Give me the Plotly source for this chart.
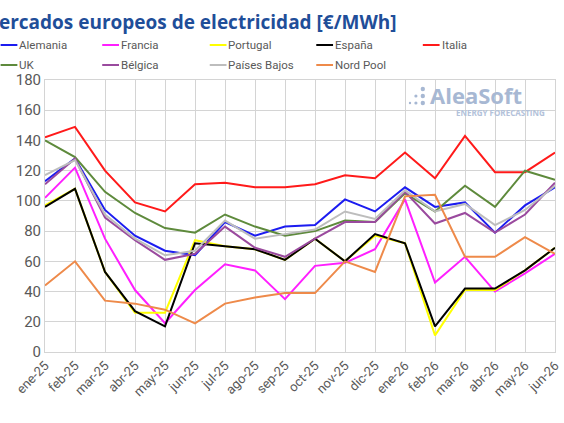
import plotly.graph_objects as go

months = ["ene-25", "feb-25", "mar-25", "abr-25", "may-25", "jun-25", "jul-25", "ago-25", "sep-25",
          "oct-25", "nov-25", "dic-25", "ene-26", "feb-26", "mar-26", "abr-26", "may-26", "jun-26"]

alemania = [113, 128, 94, 77, 67, 64, 86, 77, 83, 84, 101, 93, 109, 96, 99, 79, 97, 109]
francia = [102, 122, 75, 41, 19, 41, 58, 54, 35, 57, 59, 68, 101, 46, 63, 40, 52, 65]
portugal = [97, 108, 53, 26, 26, 74, 70, 68, 61, 75, 60, 77, 72, 11, 41, 41, 54, 69]
espana = [96, 108, 53, 27, 17, 72, 70, 68, 61, 75, 60, 78, 72, 17, 42, 42, 54, 69]
italia = [142, 149, 120, 99, 93, 111, 112, 109, 109, 111, 117, 115, 132, 115, 143, 119, 119, 132]
uk = [140, 129, 106, 92, 82, 79, 91, 83, 77, 80, 87, 86, 105, 93, 110, 96, 120, 114]
belgica = [111, 128, 89, 74, 61, 65, 83, 69, 63, 75, 86, 86, 106, 85, 92, 79, 91, 112]
paises_bajos = [117, 127, 91, 75, 64, 67, 87, 75, 78, 81, 93, 88, 107, 93, 98, 84, 94, 110]
nord_pool = [44, 60, 34, 32, 28, 19, 32, 36, 39, 39, 60, 53, 103, 104, 63, 63, 76, 65]

series = [
    ("Alemania", alemania, "#1c1cf0"),
    ("Francia", francia, "#ff1fff"),
    ("Portugal", portugal, "#ffff00"),
    ("España", espana, "#000000"),
    ("Italia", italia, "#ff1a1a"),
    ("UK", uk, "#5e8a3c"),
    ("Bélgica", belgica, "#9a4a9e"),
    ("Países Bajos", paises_bajos, "#bdbdbd"),
    ("Nord Pool", nord_pool, "#ee8a4a"),
]

y_ticks = [0, 20, 40, 60, 80, 100, 120, 140, 160, 180]

fig = go.Figure()
for name, vals, col in series:
    fig.add_trace(go.Scatter(x=list(range(len(months))), y=vals, name=name, mode="lines",
                             line=dict(color=col, width=2), showlegend=False))

L, R, T, B = 45, 2, 80, 71
W, H = 564, 423
pw = W - L - R
ph = H - T - B

def px_x(p):
    return (p - L) / pw

def px_y(p):
    return 1 + (T - p) / ph

fig.update_layout(
    width=W, height=H,
    margin=dict(l=L, r=R, t=T, b=B),
    paper_bgcolor="white", plot_bgcolor="white",
    font=dict(family="Roboto, Open Sans, sans-serif", color="#595959"),
    showlegend=False,
    xaxis=dict(range=[0, len(months) - 1], tickmode="array", tickvals=list(range(len(months))),
               ticktext=months, tickangle=-45, showgrid=True, gridcolor="#d4d4d4", gridwidth=1,
               showline=True, linecolor="#d4d4d4", mirror=True, zeroline=False, ticks="",
               ticklabeloverflow="allow",
               tickfont=dict(size=13, color="#595959")),
    yaxis=dict(range=[0, 180], tickvals=y_ticks, showgrid=True, gridcolor="#d4d4d4", gridwidth=1,
               showline=True, linecolor="#d4d4d4", mirror=True, zeroline=False, ticks="",
               tickfont=dict(size=15, color="#595959")),
)

# Legend (two rows, five columns, as in the reference)
legend_pos = [(0, 45), (103, 45), (212, 45), (320, 45), (428, 45),
              (0, 65), (103, 65), (212, 65), (320, 65)]
for (name, vals, col), (lx, ly) in zip(series, legend_pos):
    fig.add_shape(type="line", xref="paper", yref="paper",
                  x0=px_x(lx), x1=px_x(lx + 17), y0=px_y(ly), y1=px_y(ly),
                  line=dict(color=col, width=2))
    fig.add_annotation(text=name, xref="paper", yref="paper", x=px_x(lx + 18), y=px_y(ly),
                       xanchor="left", yanchor="middle", showarrow=False, borderpad=0,
                       font=dict(family="Roboto, sans-serif", size=11.5, color="#595959"))

# Title (cropped on the left as in the reference)
fig.add_annotation(text="Mercados europeos de electricidad [€/MWh]", xref="paper", yref="paper",
                   x=px_x(404), y=px_y(22), xanchor="right", yanchor="middle", showarrow=False,
                   font=dict(family="Open Sans, sans-serif", size=19, color="#1f4e99", weight="bold"))

# Watermark logo
fig.add_annotation(text="AleaSoft", xref="paper", yref="paper", x=px_x(434), y=px_y(95),
                   xanchor="left", yanchor="middle", showarrow=False, borderpad=0,
                   font=dict(family="Open Sans, sans-serif", size=22, color="#a7b8d3", weight="bold"))
fig.add_annotation(text="ENERGY FORECASTING", xref="paper", yref="paper", x=px_x(553), y=px_y(112),
                   xanchor="right", yanchor="middle", showarrow=False, borderpad=0,
                   font=dict(family="Open Sans, sans-serif", size=8, color="#b3c2da", weight="bold"))
dots = [(428, 89, 2.2), (428, 96, 2.2), (428, 103, 2.2), (421, 96, 1.6), (421, 103, 1.6), (415, 103, 1.2)]
for cx, cy, r in dots:
    fig.add_shape(type="circle", xref="paper", yref="paper",
                  x0=px_x(cx - r), x1=px_x(cx + r), y0=px_y(cy + r), y1=px_y(cy - r),
                  fillcolor="#a7b8d3", line=dict(width=0), layer="below")

fig.write_html("out.html")
